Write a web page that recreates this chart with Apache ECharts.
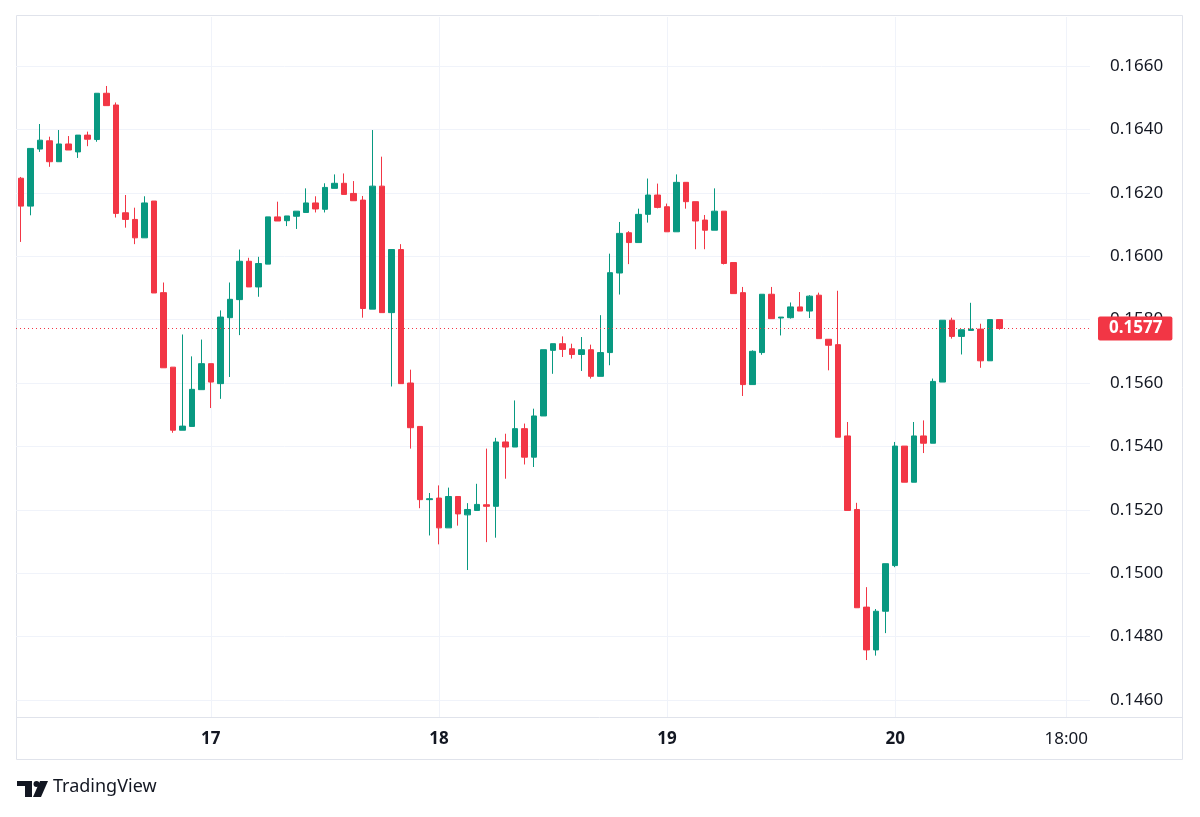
<!DOCTYPE html>
<html>
<head>
<meta charset="utf-8">
<script src="https://cdn.jsdelivr.net/npm/echarts@6/dist/echarts.min.js"></script>
<style>
  html, body { margin: 0; padding: 0; background: #fff; }
  #chart { width: 1200px; height: 817px; }
</style>
</head>
<body>
<div id="chart"></div>
<script>
// hourly candles, first one is day 16 04:00
const startDay = 16
const startHour = 4
const slotCount = 113

const opens = [
  0.16246, 0.16158, 0.16338, 0.16364, 0.16298, 0.16354, 0.16329, 0.16382, 0.16368, 0.16514,
  0.16477, 0.16137, 0.16116, 0.16058, 0.16174, 0.15885, 0.15650, 0.15451, 0.15463, 0.15579,
  0.15661, 0.15598, 0.15806, 0.15863, 0.15984, 0.15903, 0.15975, 0.16124, 0.16112, 0.16126,
  0.16138, 0.16168, 0.16148, 0.16214, 0.16230, 0.16198, 0.16177, 0.15833, 0.16221, 0.15822,
  0.16021, 0.15600, 0.15463, 0.15232, 0.15237, 0.15143, 0.15242, 0.15184, 0.15198, 0.15216,
  0.15211, 0.15414, 0.15398, 0.15456, 0.15366, 0.15496, 0.15703, 0.15724, 0.15708, 0.15690,
  0.15705, 0.15621, 0.15696, 0.15947, 0.16074, 0.16043, 0.16132, 0.16193, 0.16156, 0.16077,
  0.16233, 0.16172, 0.16114, 0.16082, 0.16142, 0.15980, 0.15885, 0.15595, 0.15696, 0.15880,
  0.15805, 0.15806, 0.15840, 0.15827, 0.15877, 0.15738, 0.15721, 0.15433, 0.15201, 0.14893,
  0.14758, 0.14880, 0.15024, 0.15401, 0.15287, 0.15433, 0.15410, 0.15603, 0.15798, 0.15747,
  0.15766, 0.15770, 0.15670, 0.15800
]
const closes = [
  0.16158, 0.16340, 0.16366, 0.16298, 0.16354, 0.16335, 0.16382, 0.16369, 0.16514, 0.16475,
  0.16135, 0.16116, 0.16058, 0.16168, 0.15884, 0.15648, 0.15451, 0.15464, 0.15580, 0.15661,
  0.15603, 0.15808, 0.15864, 0.15984, 0.15903, 0.15977, 0.16124, 0.16111, 0.16127, 0.16142,
  0.16168, 0.16149, 0.16217, 0.16230, 0.16195, 0.16175, 0.15835, 0.16221, 0.15822, 0.16021,
  0.15598, 0.15459, 0.15232, 0.15235, 0.15143, 0.15242, 0.15187, 0.15201, 0.15217, 0.15211,
  0.15414, 0.15398, 0.15456, 0.15366, 0.15496, 0.15705, 0.15724, 0.15706, 0.15690, 0.15705,
  0.15621, 0.15696, 0.15948, 0.16072, 0.16043, 0.16132, 0.16193, 0.16154, 0.16077, 0.16233,
  0.16172, 0.16111, 0.16082, 0.16142, 0.15977, 0.15882, 0.15595, 0.15700, 0.15880, 0.15803,
  0.15808, 0.15840, 0.15827, 0.15874, 0.15740, 0.15719, 0.15429, 0.15198, 0.14891, 0.14758,
  0.14880, 0.15030, 0.15401, 0.15287, 0.15433, 0.15410, 0.15605, 0.15798, 0.15747, 0.15768,
  0.15770, 0.15670, 0.15800, 0.15772
]
const lows = [
  0.16045, 0.16129, 0.16329, 0.16282, 0.16298, 0.16335, 0.16310, 0.16347, 0.16361, 0.16475,
  0.16122, 0.16090, 0.16038, 0.16058, 0.15884, 0.15648, 0.15443, 0.15451, 0.15463, 0.15579,
  0.15521, 0.15550, 0.15619, 0.15751, 0.15903, 0.15872, 0.15975, 0.16111, 0.16095, 0.16086,
  0.16138, 0.16138, 0.16138, 0.16214, 0.16195, 0.16175, 0.15806, 0.15833, 0.15822, 0.15589,
  0.15598, 0.15393, 0.15205, 0.15119, 0.15091, 0.15143, 0.15150, 0.15010, 0.15198, 0.15098,
  0.15112, 0.15298, 0.15398, 0.15343, 0.15335, 0.15496, 0.15629, 0.15682, 0.15677, 0.15638,
  0.15614, 0.15621, 0.15656, 0.15879, 0.15975, 0.16043, 0.16106, 0.16151, 0.16077, 0.16077,
  0.16150, 0.16022, 0.16022, 0.16082, 0.15974, 0.15882, 0.15559, 0.15595, 0.15689, 0.15803,
  0.15750, 0.15803, 0.15827, 0.15805, 0.15740, 0.15640, 0.15429, 0.15198, 0.14891, 0.14726,
  0.14740, 0.14811, 0.15019, 0.15287, 0.15287, 0.15379, 0.15410, 0.15603, 0.15740, 0.15690,
  0.15766, 0.15648, 0.15670, 0.15768
]
const highs = [
  0.16250, 0.16340, 0.16417, 0.16377, 0.16398, 0.16379, 0.16382, 0.16393, 0.16514, 0.16537,
  0.16485, 0.16193, 0.16153, 0.16189, 0.16174, 0.15917, 0.15650, 0.15753, 0.15684, 0.15737,
  0.15661, 0.15829, 0.15917, 0.16021, 0.15995, 0.15998, 0.16124, 0.16172, 0.16127, 0.16142,
  0.16214, 0.16189, 0.16230, 0.16258, 0.16261, 0.16237, 0.16190, 0.16398, 0.16314, 0.16021,
  0.16038, 0.15642, 0.15463, 0.15253, 0.15277, 0.15270, 0.15242, 0.15221, 0.15282, 0.15393,
  0.15427, 0.15440, 0.15545, 0.15472, 0.15519, 0.15705, 0.15724, 0.15747, 0.15724, 0.15745,
  0.15721, 0.15814, 0.16008, 0.16108, 0.16079, 0.16150, 0.16245, 0.16229, 0.16166, 0.16258,
  0.16233, 0.16172, 0.16130, 0.16214, 0.16142, 0.15980, 0.15903, 0.15703, 0.15880, 0.15903,
  0.15808, 0.15854, 0.15887, 0.15877, 0.15885, 0.15738, 0.15891, 0.15477, 0.15222, 0.14956,
  0.14887, 0.15030, 0.15414, 0.15401, 0.15477, 0.15482, 0.15614, 0.15798, 0.15806, 0.15768,
  0.15853, 0.15787, 0.15800, 0.15800
]

// time-scale labels
const xTickTimes = ['17 00:00', '18 00:00', '19 00:00', '20 00:00', '20 18:00']
const xTickLabels = ['17', '18', '19', '20', '18:00']

// price scale
const yMin = 0.146
const yMax = 0.166
const yStep = 0.002

const upColor = '#089981'
const downColor = '#f23645'
const gridColor = '#f0f3fa'
const textColor = '#131722'
const font = '"Noto Sans", sans-serif'

const pad = n => (n < 10 ? '0' + n : '' + n)
const times = []
for (let i = 0; i < slotCount; i++) {
  const h = startHour + i
  times.push((startDay + Math.floor(h / 24)) + ' ' + pad(h % 24) + ':00')
}
const candles = opens.map((o, i) => [o, closes[i], lows[i], highs[i]])
const lastClose = closes[closes.length - 1]

const isTick = (idx, val) => xTickTimes.indexOf(val) >= 0

const myChart = echarts.init(document.getElementById('chart'))
myChart.setOption({
  animation: false,
  backgroundColor: '#fff',
  grid: {
    left: 16,
    right: 110,
    top: 66,
    bottom: 117
  },
  xAxis: {
    type: 'category',
    data: times,
    boundaryGap: true,
    offset: 17,
    axisLine: { show: false },
    axisTick: {
      show: true,
      inside: true,
      length: 700,
      alignWithLabel: true,
      interval: isTick,
      lineStyle: { color: gridColor, width: 1 }
    },
    axisLabel: {
      interval: isTick,
      margin: 14,
      fontFamily: font,
      fontSize: 17,
      color: textColor,
      formatter: v => {
        const k = xTickTimes.indexOf(v)
        if (k < 0) return ''
        const t = xTickLabels[k]
        return t.indexOf(':') >= 0 ? '{n|' + t + '}' : '{b|' + t + '}'
      },
      rich: {
        b: { fontWeight: 'bold', fontSize: 17, fontFamily: font, color: textColor },
        n: { fontWeight: 'normal', fontSize: 17, fontFamily: font, color: textColor }
      }
    },
    splitLine: { show: false }
  },
  yAxis: {
    type: 'value',
    position: 'right',
    scale: true,
    min: yMin,
    max: yMax,
    interval: yStep,
    axisLine: { show: false },
    axisTick: { show: false },
    axisLabel: {
      margin: 20,
      fontFamily: font,
      fontSize: 17,
      color: textColor,
      formatter: v => v.toFixed(4)
    },
    splitLine: { lineStyle: { color: gridColor, width: 1 } }
  },
  series: [{
    type: 'candlestick',
    data: candles,
    barWidth: 6,
    itemStyle: {
      color: upColor,
      color0: downColor,
      borderColor: upColor,
      borderColor0: downColor,
      borderWidth: 1
    },
    markLine: {
      silent: true,
      precision: 5,
      symbol: ['none', 'none'],
      lineStyle: { color: downColor, type: [1, 3], width: 1 },
      label: {
        position: 'end',
        distance: 8,
        formatter: p => (Math.floor(p.value * 10000) / 10000).toFixed(4),
        backgroundColor: downColor,
        color: '#fff',
        fontFamily: font,
        fontSize: 17,
        fontWeight: 'bold',
        padding: [4, 10, 3, 11],
        borderRadius: 2
      },
      data: [{ yAxis: lastClose }]
    }
  }],
  graphic: [
    {
      type: 'rect',
      silent: true,
      shape: { x: 16.5, y: 15.5, width: 1166, height: 744 },
      style: { fill: 'none', stroke: '#e0e3eb', lineWidth: 1 }
    },
    {
      type: 'line',
      silent: true,
      shape: { x1: 16.5, y1: 717.5, x2: 1182.5, y2: 717.5 },
      style: { stroke: '#e0e3eb', lineWidth: 1 }
    },
    // TradingView logo
    {
      type: 'group',
      left: 17,
      top: 781,
      children: [
        { type: 'rect', shape: { x: 0, y: 0, width: 15, height: 5 }, style: { fill: textColor } },
        { type: 'rect', shape: { x: 8, y: 0, width: 7, height: 16 }, style: { fill: textColor } },
        { type: 'circle', shape: { cx: 19.5, cy: 3, r: 3 }, style: { fill: textColor } },
        { type: 'polygon', shape: { points: [[23, 0], [31, 0], [24, 16], [16, 16]] }, style: { fill: textColor } }
      ]
    },
    {
      type: 'text',
      left: 53,
      top: 778,
      style: { text: 'TradingView', fontFamily: font, fontSize: 18, fill: textColor }
    }
  ]
})
</script>
</body>
</html>
